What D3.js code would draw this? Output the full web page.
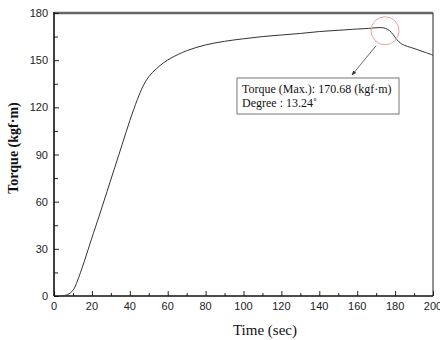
<!DOCTYPE html>
<html>
<head>
<meta charset="utf-8">
<script src="https://cdn.jsdelivr.net/npm/d3@7"></script>
<style>
  body { margin: 0; background: #fff; }
  .tick-label { font-family: "Liberation Sans", Arial, sans-serif; font-size: 11px; fill: #222; }
  .serif { font-family: "Liberation Serif", "Times New Roman", serif; }
</style>
</head>
<body>
<div id="chart"></div>
<script>
// torque curve
const timeSec = [4, 7, 10, 12, 14, 16, 18, 20, 24, 28, 32, 36, 40, 44, 47, 50, 54, 58, 62, 70, 80, 90,
  100, 110, 120, 130, 140, 150, 160, 166, 170, 173, 175, 177, 179, 181, 183, 185, 188, 192, 196, 200];
const torque = [0, 0.8, 3.5, 8.5, 15, 22, 29.5, 37, 51.5, 66.5, 81.5, 96.5, 111.5, 125, 133.5, 139.5, 144.5, 148.5, 151.5, 156, 159.7, 162,
  163.6, 165, 166, 167, 168.2, 169, 169.8, 170.2, 170.6, 170.68, 170.2, 168.8, 166.2, 163, 160.7, 159.4, 158.2, 156.6, 154.9, 153.2];
const xTicks = [0, 20, 40, 60, 80, 100, 120, 140, 160, 180, 200];
const yTicks = [0, 30, 60, 90, 120, 150, 180];
const maxPoint = { t: 174.7, v: 168.7 };
const noteLines = ['Torque (Max.): 170.68 (kgf\u00b7m)', 'Degree : 13.24\u02da'];

const width = 440, height = 340;
const margin = { top: 13, right: 7, bottom: 44, left: 54 };
const innerW = width - margin.left - margin.right;
const innerH = height - margin.top - margin.bottom;

const svg = d3.select('#chart').append('svg')
  .attr('width', width).attr('height', height);

const x = d3.scaleLinear().domain([0, 200]).range([margin.left, margin.left + innerW]);
const y = d3.scaleLinear().domain([0, 180]).range([margin.top + innerH, margin.top]);

// frame
svg.append('line').attr('x1', x(0)).attr('x2', x(200)).attr('y1', y(180)).attr('y2', y(180))
  .attr('stroke', '#666').attr('stroke-width', 2.5);
svg.append('line').attr('x1', x(200)).attr('x2', x(200)).attr('y1', y(180)).attr('y2', y(0))
  .attr('stroke', '#222').attr('stroke-width', 1);

// x axis, ticks pointing inward
const xMinor = svg.append('g').attr('transform', `translate(0, ${y(0)})`)
  .call(d3.axisTop(x).tickValues(d3.range(10, 200, 20)).tickSize(3).tickFormat(''));
xMinor.select('.domain').remove();
const xMajor = svg.append('g').attr('transform', `translate(0, ${y(0)})`)
  .call(d3.axisTop(x).tickValues(xTicks).tickSize(5).tickFormat(''));
xMajor.select('.domain').remove();
svg.append('g').selectAll('text').data(xTicks).join('text')
  .attr('class', 'tick-label').attr('x', d => x(d)).attr('y', y(0) + 14)
  .attr('text-anchor', 'middle').text(d => d);

// y axis
const yMinor = svg.append('g').attr('transform', `translate(${x(0)}, 0)`)
  .call(d3.axisRight(y).tickValues(d3.range(15, 180, 30)).tickSize(4).tickFormat(''));
yMinor.select('.domain').remove();
const yMajor = svg.append('g').attr('transform', `translate(${x(0)}, 0)`)
  .call(d3.axisRight(y).tickValues(yTicks).tickSize(5).tickFormat(''));
yMajor.select('.domain').remove();
svg.selectAll('.tick line').attr('stroke', '#222');
svg.append('g').selectAll('text').data(yTicks).join('text')
  .attr('class', 'tick-label').attr('x', x(0) - 6).attr('y', d => y(d) + 4)
  .attr('text-anchor', 'end').text(d => d);

svg.append('line').attr('x1', x(0)).attr('x2', x(200)).attr('y1', y(0)).attr('y2', y(0))
  .attr('stroke', '#111').attr('stroke-width', 1.6);
svg.append('line').attr('x1', x(0)).attr('x2', x(0)).attr('y1', y(180) - 1).attr('y2', y(0))
  .attr('stroke', '#111').attr('stroke-width', 1.6);

// curve
const points = timeSec.map((t, i) => [t, torque[i]]);
svg.append('path').datum(points)
  .attr('fill', 'none').attr('stroke', '#333').attr('stroke-width', 1)
  .attr('d', d3.line().x(d => x(d[0])).y(d => y(d[1])).curve(d3.curveCatmullRom.alpha(0.5)));

// annotation
svg.append('defs').append('marker').attr('id', 'arrow')
  .attr('viewBox', '0 0 10 10').attr('refX', 9).attr('refY', 5)
  .attr('markerWidth', 6).attr('markerHeight', 6).attr('orient', 'auto')
  .append('path').attr('d', 'M0,1 L10,5 L0,9 Z').attr('fill', '#333');

const cx = x(maxPoint.t), cy = y(maxPoint.v);
svg.append('circle').attr('cx', cx).attr('cy', cy).attr('r', 14)
  .attr('fill', 'none').attr('stroke', '#f2a0a0').attr('stroke-width', 1);
svg.append('line').attr('x1', cx - 9).attr('y1', cy + 15).attr('x2', 352).attr('y2', 75)
  .attr('stroke', '#444').attr('stroke-width', 0.8).attr('marker-end', 'url(#arrow)');

svg.append('rect').attr('x', 237).attr('y', 78).attr('width', 162).attr('height', 36)
  .attr('fill', '#fff').attr('stroke', '#777').attr('stroke-width', 1);
svg.append('g').selectAll('text').data(noteLines).join('text')
  .attr('class', 'serif').attr('x', 242).attr('y', (d, i) => 93 + i * 14)
  .attr('font-size', 12).attr('fill', '#111').text(d => d);

// axis titles
svg.append('text').attr('class', 'serif')
  .attr('x', 265).attr('y', 335).attr('text-anchor', 'middle').attr('font-weight', 'normal')
  .attr('font-size', 15).attr('fill', '#111').text('Time (sec)');
svg.append('text').attr('class', 'serif')
  .attr('transform', 'translate(18, 148) rotate(-90)')
  .attr('text-anchor', 'middle').attr('font-weight', 'bold')
  .attr('font-size', 14).attr('fill', '#111').text('Torque (kgf\u00b7m)');
</script>
</body>
</html>
